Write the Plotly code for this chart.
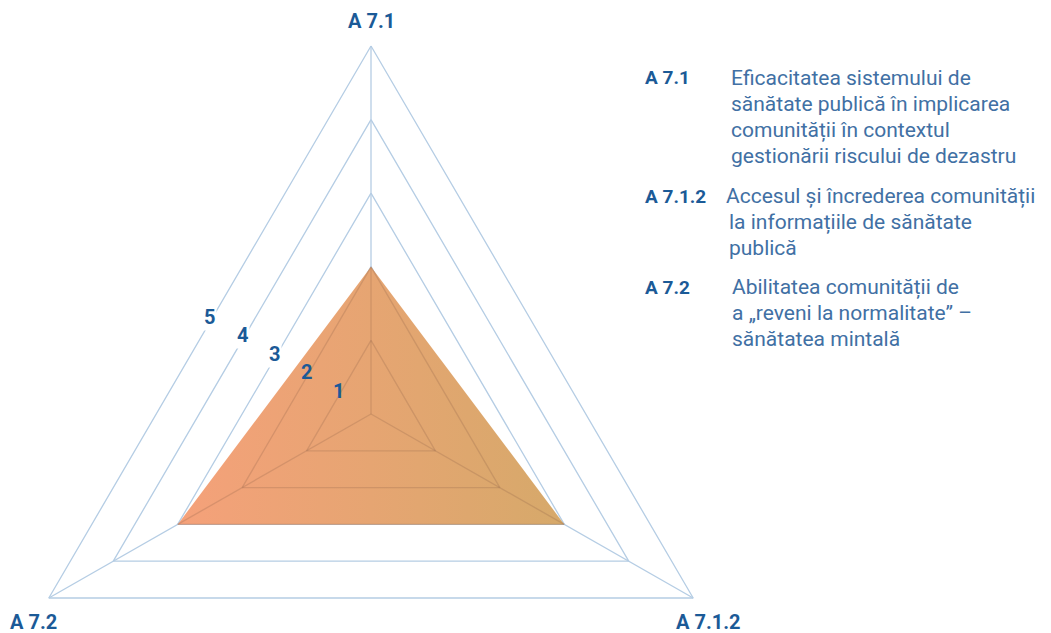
import numpy as np
import plotly.graph_objects as go

# ---------------- data ----------------
categories = ["A 7.1", "A 7.1.2", "A 7.2"]
values = [2, 3, 3]
grid_levels = [1, 2, 3, 4, 5]
level_labels = ["1", "2", "3", "4", "5"]

legend_codes = ["A 7.1", "A 7.1.2", "A 7.2"]
legend_lines = [
    ["Eficacitatea sistemului de",
     "sănătate publică în implicarea",
     "comunității în contextul",
     "gestionării riscului de dezastru"],
    ["Accesul și încrederea comunității",
     "la informațiile de sănătate",
     "publică"],
    ["Abilitatea comunității de",
     "a „reveni la normalitate” –",
     "sănătatea mintală"],
]

# ---------------- styles ----------------
W, H = 1051, 633
GRID = "#B5CDE4"
INNER = "rgba(140,95,70,0.25)"
BLUE = "#1B5A97"
TEXT = "#4170A4"
FONT = "Roboto"

angles = np.deg2rad(90 - 120 * np.arange(len(categories)))


def polar_xy(rs):
    r = np.asarray(rs, float)
    return r * np.cos(angles), r * np.sin(angles)


def closed(a):
    a = list(a)
    return a + [a[0]]


fig = go.Figure()

# outer grid (blue)
for lv in grid_levels:
    gx, gy = polar_xy([lv] * len(categories))
    fig.add_trace(go.Scatter(x=closed(gx), y=closed(gy), mode="lines",
                             line=dict(color=GRID, width=1.3),
                             hoverinfo="skip", showlegend=False))
rmax = max(grid_levels)
for a in angles:
    fig.add_trace(go.Scatter(x=[0, rmax * np.cos(a)], y=[0, rmax * np.sin(a)],
                             mode="lines", line=dict(color=GRID, width=1.3),
                             hoverinfo="skip", showlegend=False))

# data polygon with gradient fill
dx, dy = polar_xy(values)
fig.add_trace(go.Scatter(
    x=closed(dx), y=closed(dy), mode="lines", fill="toself",
    fillgradient=dict(type="horizontal",
                      colorscale=[[0, "#F5A17A"], [0.5, "#E6A572"], [1, "#D6A96A"]]),
    line=dict(color="rgba(0,0,0,0)", width=0),
    hoverinfo="skip", showlegend=False))

# grid seen through the fill
vmin = min(values)
for lv in grid_levels:
    if lv <= vmin:
        gx, gy = polar_xy([lv] * len(categories))
        fig.add_trace(go.Scatter(x=closed(gx), y=closed(gy), mode="lines",
                                 line=dict(color=INNER, width=1.3),
                                 hoverinfo="skip", showlegend=False))
for a, v in zip(angles, values):
    fig.add_trace(go.Scatter(x=[0, v * np.cos(a)], y=[0, v * np.sin(a)],
                             mode="lines", line=dict(color=INNER, width=1.3),
                             hoverinfo="skip", showlegend=False))
# bottom edge of data (coincides with grid level)
fig.add_trace(go.Scatter(x=[dx[1], dx[2]], y=[dy[1], dy[2]], mode="lines",
                         line=dict(color=INNER, width=1.3),
                         hoverinfo="skip", showlegend=False))

annotations = []
# category labels at the outer vertices
for cat, a in zip(categories, angles):
    annotations.append(dict(
        x=rmax * np.cos(a), y=rmax * np.sin(a), xref="x", yref="y",
        text=f"<b>{cat}</b>", showarrow=False,
        font=dict(family=FONT, size=20, color=BLUE),
        xanchor="center", yanchor="middle", borderpad=0,
        xshift=round(17 * np.cos(a)), yshift=25 if np.sin(a) > 0 else -24))

# radial level labels along the edge midpoints (150 deg)
lab_a = np.deg2rad(150)
for lv, lab in zip(grid_levels, level_labels):
    annotations.append(dict(
        x=lv / 2 * np.cos(lab_a), y=lv / 2 * np.sin(lab_a), xref="x", yref="y",
        text=f"<b>{lab}</b>", showarrow=False,
        font=dict(family=FONT, size=20, color=BLUE),
        bgcolor="white" if lv > vmin else None,
        xanchor="center", yanchor="middle", yshift=5, borderpad=1))

# legend block on the right
starts = [78, 196, 287]
desc_x = [729, 724, 730]
for code, lines, y0, x0 in zip(legend_codes, legend_lines, starts, desc_x):
    annotations.append(dict(
        x=643 / W, y=1 - y0 / H, xref="paper", yref="paper",
        text=f"<b>{code}</b>", showarrow=False,
        font=dict(family=FONT, size=19, color=BLUE),
        xanchor="left", yanchor="middle"))
    for k, ln in enumerate(lines):
        annotations.append(dict(
            x=(x0 if k == 0 else max(x0, 727)) / W, y=1 - (y0 + 26 * k) / H,
            xref="paper", yref="paper", text=ln, showarrow=False,
            font=dict(family=FONT, size=21, color=TEXT),
            xanchor="left", yanchor="middle"))

# pixel-matched axes: centre at (371, 414), level 5 = 372 px (x) / 368 px (y)
cx, cy = 371, 414
ux, uy = rmax / 372, rmax / 368
fig.update_layout(
    width=W, height=H,
    margin=dict(l=0, r=0, t=0, b=0),
    paper_bgcolor="white", plot_bgcolor="white",
    xaxis=dict(range=[-cx * ux, (W - cx) * ux], visible=False, fixedrange=True),
    yaxis=dict(range=[-(H - cy) * uy, cy * uy], visible=False, fixedrange=True),
    annotations=annotations,
    showlegend=False,
)

fig.write_html("out.html")
